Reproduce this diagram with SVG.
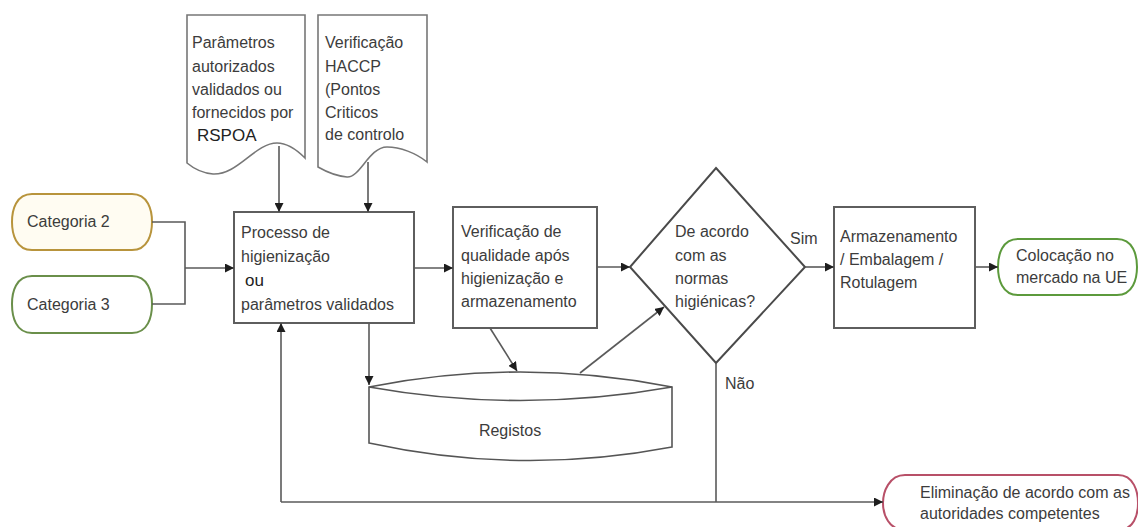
<svg xmlns="http://www.w3.org/2000/svg" width="1138" height="527" viewBox="0 0 1138 527">
  <style>
    .txt { font-family: "Liberation Sans", Arial, sans-serif; font-size: 16px; fill: #3c3c3c; }
    .big { font-family: "Liberation Sans", Arial, sans-serif; font-size: 17px; fill: #222; }
    .box { fill: #fff; stroke: #5e5e5e; stroke-width: 2; }
    .doc { fill: #fff; stroke: #777; stroke-width: 1.6; }
    .line { fill: none; stroke: #5a5a5a; stroke-width: 1.6; }
    .arr { marker-end: url(#head); }
  </style>
  <defs>
    <marker id="head" viewBox="0 0 10 10" refX="10" refY="5" markerWidth="9" markerHeight="9" markerUnits="userSpaceOnUse" orient="auto">
      <path d="M0,0 L10,5 L0,10 z" fill="#1e1e1e"/>
    </marker>
  </defs>
  <rect width="1138" height="527" fill="#fff"/>

  <!-- document: authorised parameters -->
  <g id="doc-parametros">
    <path class="doc" d="M187,15 H305 V158 C296,149 286,143 277,143 C255,143 238,175 213,174 C201,173 193,168 187,163 Z"/>
    <text class="txt" x="192" y="48">Parâmetros</text>
    <text class="txt" x="192" y="72">autorizados</text>
    <text class="txt" x="192" y="95">validados ou</text>
    <text class="txt" x="192" y="118">fornecidos por</text>
    <text class="big" x="197" y="141">RSPOA</text>
  </g>

  <!-- document: HACCP check -->
  <g id="doc-haccp">
    <path class="doc" d="M318,15 H427 V162 C416,153 400,147 387,147 C369,147 360,178 347,177 C335,176 325,171 318,167 Z"/>
    <text class="txt" x="325" y="48">Verificação</text>
    <text class="txt" x="325" y="72">HACCP</text>
    <text class="txt" x="325" y="95">(Pontos</text>
    <text class="txt" x="325" y="118">Criticos</text>
    <text class="txt" x="325" y="140">de controlo</text>
  </g>

  <!-- inputs -->
  <g id="categoria-2">
    <path d="M32,194 H132 C148,194 152,210 152,222 C152,234 148,250 132,250 H32 C16,250 12,234 12,222 C12,210 16,194 32,194 Z" fill="#fffcf2" stroke="#b8943c" stroke-width="2"/>
    <text class="txt" x="27" y="227">Categoria 2</text>
  </g>
  <g id="categoria-3">
    <path d="M32,276 H132 C148,276 152,292 152,304 C152,317 148,333 132,333 H32 C16,333 12,317 12,304 C12,292 16,276 32,276 Z" fill="#fff" stroke="#6a8f4a" stroke-width="2"/>
    <text class="txt" x="27" y="310">Categoria 3</text>
  </g>

  <!-- process steps -->
  <g id="processo">
    <rect class="box" x="234" y="212" width="180" height="111" stroke="#505050"/>
    <text class="txt" x="241" y="238">Processo de</text>
    <text class="txt" x="241" y="262">higienização</text>
    <text class="big" x="245" y="286">ou</text>
    <text class="txt" x="241" y="310">parâmetros validados</text>
  </g>

  <g id="verificacao">
    <rect class="box" x="453" y="207" width="144" height="121"/>
    <text class="txt" x="461" y="237">Verificação de</text>
    <text class="txt" x="461" y="261">qualidade após</text>
    <text class="txt" x="461" y="284">higienização e</text>
    <text class="txt" x="461" y="307">armazenamento</text>
  </g>

  <g id="decisao">
    <polygon points="716,168 805,267 716,363 630,267" fill="#fff" stroke="#4a4a4a" stroke-width="2"/>
    <text class="txt" x="675" y="237">De acordo</text>
    <text class="txt" x="675" y="261">com as</text>
    <text class="txt" x="675" y="284">normas</text>
    <text class="txt" x="675" y="307">higiénicas?</text>
  </g>

  <g id="armazenamento">
    <rect class="box" x="834" y="207" width="141" height="121" stroke="#6c776c"/>
    <text class="txt" x="840" y="242">Armazenamento</text>
    <text class="txt" x="840" y="265">/ Embalagem /</text>
    <text class="txt" x="840" y="288">Rotulagem</text>
  </g>

  <!-- records store -->
  <g id="registos">
    <path d="M369,387 Q520,357 672,387 V447 Q520,476 369,443 Z" fill="#fff" stroke="#555" stroke-width="1.6"/>
    <path d="M369,387 Q520,414 672,387" fill="none" stroke="#555" stroke-width="1.6"/>
    <text class="txt" x="510" y="436" text-anchor="middle">Registos</text>
  </g>

  <!-- outputs -->
  <g id="colocacao">
    <path d="M1018,239 H1117 C1133,239 1137,255 1137,267 C1137,279 1133,295 1117,295 H1018 C1002,295 998,279 998,267 C998,255 1002,239 1018,239 Z" fill="#fff" stroke="#5c9a3c" stroke-width="2"/>
    <text class="txt" x="1016" y="261">Colocação no</text>
    <text class="txt" x="1016" y="283">mercado na UE</text>
  </g>

  <g id="eliminacao">
    <path d="M905,475 H1118 C1134,475 1138,492 1138,503 C1138,515 1134,530 1118,530 H905 C889,530 883,515 883,503 C883,492 889,475 905,475 Z" fill="#fff" stroke="#b85068" stroke-width="2"/>
    <text class="txt" x="920" y="498">Eliminação de acordo com as</text>
    <text class="txt" x="920" y="519">autoridades competentes</text>
  </g>

  <!-- connectors -->
  <g id="connectors">
    <path class="line" d="M152,222 H185 V304 H152"/>
    <path class="line arr" d="M185,268 H234"/>
    <path class="line arr" d="M279,146 V212"/>
    <path class="line arr" d="M368,162 V212"/>
    <path class="line arr" d="M414,268 H453"/>
    <path class="line arr" d="M597,267 H630"/>
    <path class="line arr" d="M805,267 H834"/>
    <path class="line arr" d="M975,267 H998"/>
    <path class="line arr" d="M369,323 V385"/>
    <path class="line arr" d="M490,328 L517,371"/>
    <path class="line arr" d="M580,373 L664,307"/>
    <path class="line" d="M716,363 V502"/>
    <path class="line arr" d="M281,502 V323"/>
    <path class="line arr" d="M281,502 H883"/>
    <text class="txt" x="790" y="244">Sim</text>
    <text class="txt" x="725" y="389">Não</text>
  </g>
</svg>
